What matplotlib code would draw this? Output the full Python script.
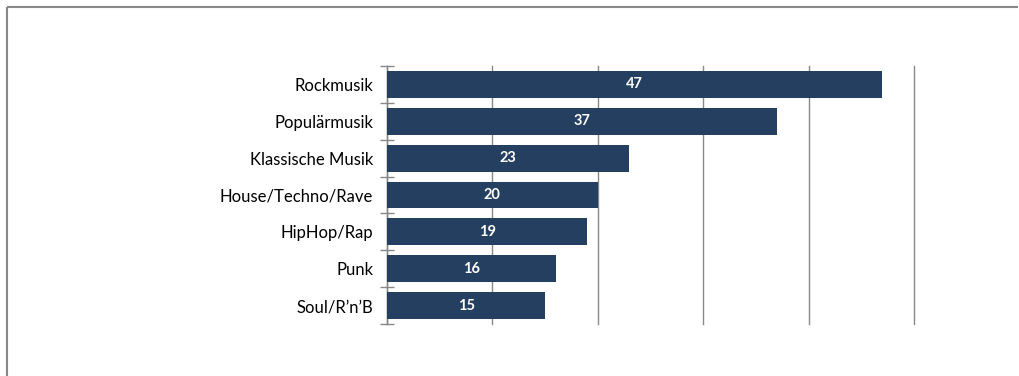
import matplotlib.pyplot as plt
from matplotlib.lines import Line2D
import numpy as np

# genres and counts, top to bottom
genres = ["Rockmusik", "Populärmusik", "Klassische Musik", "House/Techno/Rave",
          "HipHop/Rap", "Punk", "Soul/R\u2019n\u2019B"]
counts = [47, 37, 23, 20, 19, 16, 15]

bar_color = "#243f60"
grid_color = "#888888"

plt.rcParams['font.family'] = ['Lato', 'DejaVu Sans']

W, H = 1019, 376
fig = plt.figure(figsize=(W / 100, H / 100), dpi=100)
ax = fig.add_axes([387 / W, 1 - 324 / H, (914 - 387) / W, (324 - 66) / H])

y = np.arange(len(genres))
ax.barh(y, counts, height=0.73, color=bar_color, zorder=3)
for yi, v in zip(y, counts):
    ax.text(v / 2, yi, str(v), ha='center', va='center', color='white',
            fontsize=10.5, fontweight='bold', zorder=4)

ax.set_xlim(0, 50)
ax.set_ylim(len(genres) - 0.5, -0.5)
ax.set_xticks(np.arange(0, 51, 10))
ax.xaxis.grid(True, color=grid_color, linewidth=1, zorder=0)
for gl in ax.get_xgridlines():
    gl.set_clip_on(False)
ax.tick_params(axis='x', length=0, labelbottom=False)

ax.set_yticks(y)
ax.set_yticklabels(genres, fontsize=12)
ax.tick_params(axis='y', which='major', length=0, pad=10)
ax.set_yticks(np.arange(-0.5, len(genres), 1), minor=True)
ax.tick_params(axis='y', which='minor', direction='inout', length=10,
               color=grid_color, width=1)

for s in ['top', 'right', 'bottom']:
    ax.spines[s].set_visible(False)
ax.spines['left'].set_color(grid_color)
ax.spines['left'].set_linewidth(1)

# outer frame, only top and left edges fall inside the image
fx, fy = 6.5 / W, 1 - 6.5 / H
fig.lines.append(Line2D([fx, 1018 / W], [fy, fy], transform=fig.transFigure,
                        color=grid_color, linewidth=1.5, solid_capstyle='butt'))
fig.lines.append(Line2D([fx, fx], [-0.02, fy], transform=fig.transFigure,
                        color=grid_color, linewidth=1.5, solid_capstyle='butt'))

fig.savefig("out.png", dpi=100, facecolor='white')
